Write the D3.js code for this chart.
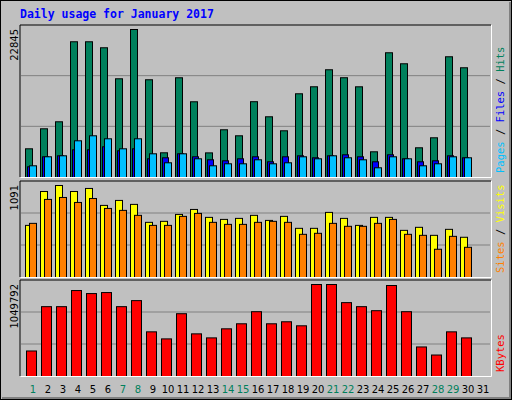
<!DOCTYPE html><html><head><meta charset="utf-8">
<script src="https://cdn.jsdelivr.net/npm/d3@7"></script>
<style>body{margin:0;background:#fff}</style></head><body>
<script>
const days=d3.range(1,32);
const weekend=[1,7,8,14,15,21,22,28,29];
const hits=[4431,7519,8600,20952,20950,20025,15239,22845,15085,3814,15394,11688,3800,7365,6438,11700,9372,7210,12923,14004,16629,15400,14000,3968,19254,17555,4586,6130,18636,16938];
const files=[1652,3196,3350,4277,4277,4740,4122,4431,2887,3042,3659,3196,2733,2578,2887,3196,2424,3196,3350,3042,3350,3505,3196,2424,3505,2887,2424,2578,3350,3042];
const pages=[1806,3196,3350,5666,6438,5975,4431,5975,3659,2270,3659,2887,1806,2115,2115,2733,2115,2270,3196,2887,3350,3042,2733,1498,3196,2887,1806,2115,3196,3042];
const visits=[618,1020,1091,1020,1056,855,914,867,654,666,748,807,713,689,701,737,677,725,583,583,772,701,618,713,713,559,595,500,571,477];
const sites=[642,926,949,890,937,819,796,737,618,618,725,760,654,630,630,654,666,654,512,524,642,607,607,642,689,512,500,335,488,358];
const kbytes=[291186,796931,796931,980838,946356,957850,796931,865885,509576,429117,716457,486582,440611,544059,601520,739446,601520,624508,578541,1049792,1049792,842891,796931,750954,1038299,739446,337163,245210,509576,440611];

const W=512,H=400;
const svg=d3.select("body").append("svg").attr("width",W).attr("height",H);
svg.append("rect").attr("x",0.5).attr("y",0.5).attr("width",W-1).attr("height",H-1).attr("fill","#c0c0c0").attr("stroke","#000");
svg.append("path").attr("d",`M2,${H-2}H${W-2}V2`).attr("stroke","#808080").attr("fill","none").attr("stroke-width",2);
svg.append("text").attr("x",20).attr("y",18).text("Daily usage for January 2017")
 .attr("font-family","DejaVu Sans Mono").attr("font-weight","bold").attr("font-size","11.5px").attr("fill","#0000ff");

const x=d3.scaleBand().domain(days).range([20,491]).paddingOuter(0.1);
const step=15, x0=d=>25+(d-1)*step;

function panel(top,bottom,maxV,maxLabel,series,labels){
  svg.append("rect").attr("x",20).attr("y",top).attr("width",471).attr("height",bottom-top).attr("fill","#c0c0c0");
  const h=bottom-top;
  [1/3,2/3].forEach(f=>svg.append("line").attr("x1",21).attr("x2",490).attr("y1",bottom-h*f+ (maxLabel==="22845"?0:0)).attr("y2",bottom-h*f).attr("stroke","#808080"));
  const y=d3.scaleLinear().domain([0,maxV]).range([bottom,top+4]);
  series.forEach(s=>{
    svg.append("g").selectAll("rect").data(s.data).join("rect")
     .attr("x",(v,i)=>x0(i+1)+s.dx+0.5).attr("width",s.w).attr("y",v=>y(v)+0.5)
     .attr("height",v=>bottom-y(v)).attr("fill",s.color).attr("stroke","#000").attr("stroke-width",1);
  });
  svg.append("path").attr("d",`M20,${bottom}V${top}H491`).attr("stroke","#000").attr("fill","none");
  svg.append("path").attr("d",`M20.5,${bottom+0.5}H491.5V${top}`).attr("stroke","#fff").attr("fill","none");
  svg.append("text").attr("transform",`translate(18,${top+4}) rotate(-90)`).attr("text-anchor","end")
   .attr("font-family","DejaVu Sans").attr("font-size","10px").attr("fill","#000").text(maxLabel);
  const t=svg.append("text").attr("transform",`translate(504,${bottom-4}) rotate(-90)`)
   .attr("font-family","DejaVu Sans Mono").attr("font-size","10.5px");
  labels.forEach((l,i)=>{ if(i) t.append("tspan").attr("fill","#000").text(" / "); t.append("tspan").attr("fill",l[1]).text(l[0]);});
}
panel(25,177,22845,"22845",[
 {data:hits,dx:0,w:7,color:"#00805c"},
 {data:files,dx:2,w:6,color:"#0000ff"},
 {data:pages,dx:4,w:7,color:"#00c0ff"}],
 [["Pages","#00c0ff"],["Files","#0000ff"],["Hits","#00805c"]]);
panel(181,277,1091,"1091",[
 {data:visits,dx:0,w:7,color:"#ffff00"},
 {data:sites,dx:4,w:7,color:"#ff8000"}],
 [["Sites","#ff8000"],["Visits","#ffff00"]]);
panel(280,376,1049792,"1049792",[
 {data:kbytes,dx:1,w:10,color:"#ff0000"}],
 [["KBytes","#ff0000"]]);

svg.append("g").selectAll("text").data(days).join("text")
 .attr("x",d=>x0(d)+8).attr("y",393).attr("text-anchor","middle")
 .attr("font-family","DejaVu Sans").attr("font-size","10px")
 .attr("fill",d=>weekend.includes(d)?"#00805c":"#000").text(d=>d);
</script></body></html>
